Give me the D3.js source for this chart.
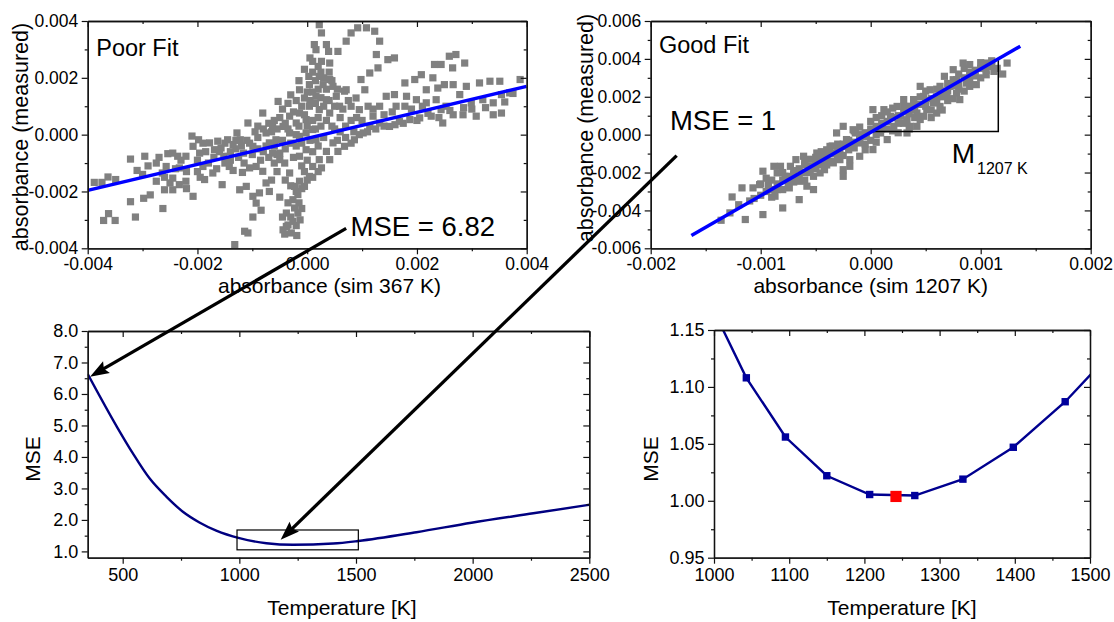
<!DOCTYPE html>
<html>
<head>
<meta charset="utf-8">
<script src="https://cdn.jsdelivr.net/npm/d3@7"></script>
<style>
  html, body { margin: 0; padding: 0; background: #fff; }
  svg { display: block; }
</style>
</head>
<body>
<svg id="fig" width="1114" height="622"></svg>
<script>
// ---------------------------------------------------------------
// Data
// ---------------------------------------------------------------

// Scatter of measured vs simulated absorbance at 367 K (units of 1e-3)
const poorFitPoints = [
  [-3.88,-1.68],[-3.74,-1.68],[-3.63,-1.49],[-3.49,-1.58],[-3.22,-0.86],[-3.10,-1.26],[-2.96,-0.76],
  [-3.71,-3.02],[-3.62,-2.78],[-3.50,-3.02],[-3.13,-2.90],[-3.22,-2.36],[-2.98,-2.24],[-2.86,-2.12],
  [-2.75,-1.00],[-2.63,-2.60],[-2.64,-1.35],[-2.54,-0.67],[-2.45,-0.65],[-2.36,-0.76],[-2.57,-1.12],
  [-2.45,-1.53],[-2.33,-1.17],[-2.21,-0.76],[-2.75,-1.64],[-2.60,-1.94],[-2.45,-1.94],[-2.33,-1.76],
  [-2.21,-1.64],[-2.08,-2.17],[-2.08,-0.41],[-1.98,-0.18],[-1.96,-0.65],[-1.90,-1.12],[-1.78,-0.29],
  [-1.69,-0.53],[-1.63,-0.23],[-1.57,-0.47],[-1.52,-0.76],[-1.45,-0.18],[-1.42,-1.12],[-1.35,-0.35],
  [-1.28,0.06],[-1.22,-0.18],[-1.16,-0.65],[-1.08,0.41],[-0.99,-0.41],[-0.93,-1.12],[-0.81,0.76],
  [-0.75,0.06],[-0.69,-0.29],[-1.23,-1.94],[-1.11,-1.82],[-0.99,-2.17],[-0.87,-2.05],[-0.81,-1.29],
  [-0.75,-1.70],[-0.93,-2.41],[-0.84,-2.66],[-0.99,-2.90],[-1.14,-3.40],[-1.08,-3.46],[-1.32,-3.87],
  [-1.87,-1.58],[-1.72,-1.35],[-1.55,-1.76],[-1.35,-1.26],[-1.18,-1.33],[-1.05,-1.17],[-0.53,1.17],
  [-0.63,0.29],[-0.57,-0.18],[-0.63,-0.65],[-0.50,-0.88],[-0.69,-2.00],
  [-2.10,-0.05],[-1.90,-0.30],[-1.50,-0.30],[-1.30,-0.50],[-1.10,-0.20],[-0.90,-0.10],[-0.90,0.30],
  [-0.80,-0.60],[-0.70,0.40],[-0.60,0.50],[-0.60,-1.00],[-0.55,-1.30],[-0.65,-1.60],
  [-2.40,-1.20],[-2.30,-0.90],[-2.20,-1.30],[-2.00,-0.90],[-2.00,-1.30],[-1.85,-0.60],[-1.80,-1.00],
  [-1.70,-0.80],[-1.65,-1.20],[-1.60,-0.60],[-1.50,-1.00],[-1.40,-0.60],[-1.40,-0.90],[-1.30,-0.20],
  [-1.25,-0.80],[-1.20,-0.40],[-1.15,-1.00],[-1.05,-0.30],[-1.00,-0.70],[-0.95,0.10],[-0.90,-0.50],
  [-0.85,-0.90],[-0.80,0.20],[-0.75,-0.40],[-0.70,-0.80],[-0.65,0.10],[-0.60,-0.40],[-0.55,-0.70],
  [-2.60,-1.50],[-2.70,-0.80],[-2.90,-1.10],[-3.00,-1.40],[-2.50,-1.70],[-2.20,-1.90],[-1.95,-1.50],
  [0.22,3.87],[0.26,3.58],[0.13,3.17],[0.35,3.17],[0.16,2.99],[0.39,2.93],[0.10,2.58],[0.26,2.58],
  [0.41,2.52],[0.03,2.05],[0.22,2.05],[0.41,1.94],[-0.14,1.58],[0.04,1.76],[0.29,1.76],[0.47,1.70],
  [-0.05,1.29],[0.16,1.35],[0.35,1.23],[0.53,1.35],[0.68,1.53],[0.04,1.00],[0.22,0.88],[0.41,0.76],
  [0.59,1.00],[-0.14,0.76],
  [-0.55,0.20],[-0.50,0.60],[-0.45,-0.20],[-0.45,0.90],[-0.40,0.40],[-0.40,-0.50],[-0.35,1.10],
  [-0.35,0.20],[-0.30,-0.30],[-0.30,1.40],[-0.25,0.80],[-0.25,-0.80],[-0.20,1.20],[-0.20,0.00],
  [-0.20,-0.40],[-0.15,1.90],[-0.15,0.30],[-0.10,1.00],[-0.10,-0.30],[-0.10,-1.10],[-0.05,2.30],
  [-0.05,0.70],[-0.05,-1.30],[0.00,1.50],[0.00,0.30],[0.00,-0.90],[0.05,2.70],[0.05,1.20],
  [0.05,-0.20],[0.10,2.20],[0.10,1.50],[0.10,0.50],[0.10,-0.60],[0.15,1.90],[0.15,1.10],[0.15,0.20],
  [0.20,2.40],[0.20,1.60],[0.20,0.60],[0.20,-0.40],[0.25,2.20],[0.25,1.30],[0.25,0.30],[0.30,2.00],
  [0.30,1.00],[0.30,-0.10],[0.35,1.60],[0.35,0.50],[0.40,2.20],[0.40,1.20],[0.45,0.30],[0.45,1.90],
  [0.50,1.00],[0.50,0.20],[0.55,1.60],[0.60,0.60],[0.60,0.10],[0.65,0.90],[0.70,0.30],[0.75,1.20],
  [0.80,0.50],[0.85,0.10],[0.90,0.60],
  [0.56,2.93],[0.71,3.29],[0.80,3.58],[0.92,3.76],[1.08,3.76],[1.23,3.64],[1.32,3.29],[1.26,2.82],
  [1.29,2.35],[1.47,2.64],[1.59,2.70],[1.14,2.17],[0.98,1.94],[0.71,1.58],[0.89,1.29],[1.05,1.58],
  [1.78,1.82],[1.96,1.94],[2.08,2.11],[2.32,2.47],[2.44,2.47],[2.59,2.76],[2.71,2.82],[2.87,2.52],
  [2.65,2.35],[2.29,2.00],[2.17,1.58],[2.38,1.64],[2.50,1.76],[2.66,1.76],[2.90,1.70],[3.14,1.82],
  [3.33,1.88],[3.51,1.88],[3.88,1.94],[3.69,1.47],[3.54,1.41],
  [1.44,1.35],[1.59,1.41],[1.81,1.35],[1.78,1.00],[1.99,1.23],[2.17,1.12],[2.35,1.23],[2.44,0.88],
  [2.53,1.00],[2.78,1.41],[2.99,1.12],[3.20,1.23],[3.39,1.12],[3.54,0.76],[3.39,0.70],[3.08,0.65],
  [2.84,0.70],[2.66,0.70],[2.47,0.41],[2.26,0.65],[2.05,0.59],[1.87,0.53],[1.68,0.47],[1.50,0.29],
  [1.32,0.41],[1.14,0.29],[1.02,0.06],[0.86,-0.18],[0.68,-0.41],[0.80,1.00],[0.95,0.88],[1.11,1.00],
  [1.32,1.00],[1.62,1.00],[1.20,0.65],
  [0.55,-0.20],[0.70,-0.10],[0.80,-0.30],[0.95,0.00],[1.10,0.10],[1.25,0.20],[1.40,0.30],[1.60,0.35],
  [1.75,0.40],[2.00,0.50],[2.20,0.75],[2.40,0.60],[2.60,0.85],[2.85,0.95],[3.00,0.90],[3.25,0.95],
  [3.60,1.15],[3.75,1.45],[1.00,0.50],[1.20,0.90],[1.40,0.70],[1.55,0.80],[1.90,0.90],[2.10,1.00],
  [0.47,-0.29],[0.56,-0.59],[0.35,-0.59],[0.22,-0.88],[0.41,-0.88],[0.10,-1.12],[0.26,-1.17],
  [0.04,-1.47],[-0.14,-1.64],[-0.05,-1.82],[-0.17,-2.11],[-0.26,-2.29],[-0.23,-2.58],[-0.17,-2.76],
  [-0.26,-3.05],[-0.38,-3.23],[-0.29,-3.46],[-0.44,-3.35],[-0.23,-1.82],[-0.32,-1.35],[-0.41,-1.00],
  [-0.50,-0.65],[-0.14,-0.76],[-0.02,-0.53],[0.16,-0.18],[0.10,0.18],[-0.14,-0.06],[-0.32,0.06],
  [-0.44,0.29],[-0.20,0.41],[-0.02,0.53],[-0.32,0.65],[-0.02,0.06],
  [-0.38,-2.76],[-0.13,-3.00],[-0.41,-3.50],[-0.19,-3.55],[-0.35,-3.18],
  [-0.30,-1.80],[-0.20,-2.00],[-0.10,-1.90],[0.00,-1.60],[-0.35,-2.40],[-0.15,-2.40],[-0.30,-2.90],
  [-0.10,-2.60],[-0.45,-2.90],[-0.20,-3.20],[0.10,-1.50],[0.20,-1.30],[-0.40,-1.60],[-0.50,-2.20]
];

// Scatter of measured vs simulated absorbance at 1207 K (units of 1e-3)
const goodFitPoints = [
  [-1.36,-4.52],[-1.28,-4.13],[-1.26,-3.29],[-1.17,-2.81],[-1.14,-4.48],[-1.07,-2.81],[-1.06,-3.37],
  [-0.98,-4.22],[-1.01,-2.64],[-0.98,-1.93],[-0.93,-2.64],[-0.88,-1.67],[-0.85,-2.02],[-0.82,-1.67],
  [-0.87,-3.25],[-0.80,-3.87],[-0.80,-2.90],[-0.74,-2.81],[-0.73,-1.67],[-0.68,-1.32],[-0.65,-3.43],
  [-0.64,-2.46],[-0.61,-1.14],[-0.58,-2.72],[-0.52,-2.90],[-0.55,-1.67],[-0.49,-0.97],[-0.46,-2.02],
  [-0.42,-1.85],[-0.40,-1.14],[-0.37,-0.62],[-0.34,-1.49],[-0.31,0.09],[-0.28,-0.79],[-0.25,0.44],
  [-0.22,-0.26],[-0.19,-1.32],[-0.14,0.09],[-0.70,-2.20],[-0.78,-2.20],[-0.52,-2.20],
  [-0.28,-1.32],[-0.25,-1.85],[-0.22,-0.62],[-0.16,0.26],[-0.10,-0.44],[-0.04,-0.09],[0.02,1.32],
  [0.05,0.44],[0.12,1.32],[0.15,-0.26],[0.21,0.44],[0.24,1.49],[0.30,1.85],[0.33,0.79],[0.36,0.44],
  [0.42,1.14],[0.45,2.55],[0.48,2.02],[0.51,1.32],[0.54,2.37],[0.60,1.14],[0.63,2.55],[0.67,3.08],
  [0.69,2.02],[0.75,3.43],[0.78,2.20],[0.81,1.85],[0.84,3.78],[0.87,2.72],[0.90,2.55],[0.96,2.64],
  [1.05,3.16],[1.12,3.34],[1.05,3.78],[1.24,3.78],[0.39,1.85],[0.27,0.97],[0.18,0.97],[0.09,0.09],
  [0.48,0.97],[0.57,1.67],[0.72,2.55],[0.78,2.90],[0.63,1.49],[0.42,0.44],[0.33,0.09],[0.02,-0.79],
  [-0.10,-1.14],[-0.19,-1.67],[-0.25,-2.20],
  [-1.20,-3.70],[-1.10,-3.50],[-1.00,-3.20],[-0.90,-2.90],[-0.95,-2.30],[-0.85,-2.60],[-0.75,-2.40],
  [-0.70,-1.90],[-0.60,-2.00],[-0.60,-1.60],[-0.50,-1.50],[-0.45,-1.20],[-0.40,-1.60],[-0.35,-1.00],
  [-0.30,-1.10],[-0.30,-0.50],[-0.20,-0.80],[-0.15,-0.40],[-0.10,0.00],[-0.05,-0.50],[0.00,0.30],
  [0.05,0.00],[0.10,0.60],[0.15,0.30],[0.20,0.90],[0.25,0.60],[0.30,1.20],[0.35,1.50],[0.40,0.90],
  [0.45,1.60],[0.50,1.80],[0.55,1.30],[0.60,2.00],[0.65,2.30],[0.70,1.80],[0.75,2.60],[0.80,2.40],
  [0.85,3.00],[0.90,3.30],[0.95,3.10],[1.00,3.50],[1.10,3.60],
  [-1.00,-2.60],[-0.95,-3.00],[-0.90,-2.40],[-0.90,-3.30],[-0.85,-2.90],[-0.80,-2.40],[-0.80,-2.00],
  [-0.75,-2.20],[-0.75,-2.60],[-0.70,-2.50],[-0.70,-2.10],[-0.65,-1.80],[-0.65,-2.20],[-0.60,-1.40],
  [-0.60,-2.40],[-0.55,-2.00],[-0.55,-1.30],[-0.50,-1.80],[-0.50,-1.20],[-0.45,-1.60],[-0.45,-0.90],
  [-0.40,-1.30],[-0.40,-0.80],[-0.35,-1.40],[-0.35,-0.60],[-0.30,-0.80],[-0.30,-1.30],[-0.25,-0.50],
  [-0.25,-1.10],[-0.20,-0.30],[-0.20,-0.60],[-0.15,-0.70],[-0.15,0.20],[-0.10,-0.20],[-0.10,0.40],
  [-0.05,0.10],[-0.05,-0.80],[0.00,-0.30],[0.00,0.70],[0.05,0.90],[0.05,-0.40],[0.10,0.30],
  [0.10,1.00],[0.15,0.70],[0.15,1.20],[0.20,0.20],[0.20,1.40],[0.25,1.00],[0.25,0.10],[0.30,0.60],
  [0.30,1.50],[0.35,1.10],[0.35,0.30],[0.40,1.60],[0.40,1.30],[0.45,0.80],[0.45,2.00],[0.50,1.50],
  [0.50,2.30],[0.55,1.90],[0.55,0.90],[0.60,1.70],[0.60,2.40],[0.65,2.00],[0.65,1.30],[0.70,2.30],
  [0.70,2.70],[0.75,1.90],[0.75,2.90],[0.80,2.60],[0.80,3.20],[0.85,2.30],[0.85,3.50],[0.90,2.90],
  [0.90,3.70],[0.95,3.40],[1.00,3.00],[1.00,3.80],[1.05,3.40],[1.10,3.90],[1.15,3.50],[1.20,3.20]
];

// Linear fits (absorbance units)
const poorFitSlope = 0.4575, poorFitIntercept = -0.00013;
const poorFitRange = [-0.004, 0.004];
const goodFitSlope = 3.343, goodFitIntercept = 0.000124;
const goodFitRange = [-0.00163, 0.00136];
// Slope triangle drawn under the good fit line
const slopeTriangle = [[0, 0.00016], [0.00116, 0.00016], [0.00116, 0.00402]];

// MSE versus temperature, full scan
const scanTemp = [350, 479, 543, 615, 687, 758, 829, 901, 1000, 1116, 1230, 1402, 1509, 1759, 1995, 2260, 2500];
const scanMSE  = [6.635, 4.91, 4.12, 3.32, 2.74, 2.26, 1.92, 1.66, 1.42, 1.26, 1.21, 1.25, 1.33, 1.61, 1.91, 2.21, 2.48];
// Region shown enlarged on the right
const zoomTemp = [990, 1510];
const zoomMSE  = [1.05, 1.68];

// MSE versus temperature, fine scan around the minimum
const fineTemp = [993, 1043, 1095, 1150, 1207, 1267, 1331, 1398, 1467, 1539];
const fineMSE  = [1.176, 1.108, 1.056, 1.022, 1.0055, 1.0046, 1.019, 1.047, 1.087, 1.1375];
const bestTemp = 1242, bestMSE = 1.0038;

// Tick values
const ticksA = [-0.004, -0.002, 0, 0.002, 0.004];
const minorA = [-0.003, -0.001, 0.001, 0.003];
const ticksBx = [-0.002, -0.001, 0, 0.001, 0.002];
const minorBx = [-0.0015, -0.0005, 0.0005, 0.0015];
const ticksBy = [-0.006, -0.004, -0.002, 0, 0.002, 0.004, 0.006];
const minorBy = [-0.005, -0.003, -0.001, 0.001, 0.003, 0.005];
const ticksCx = [500, 1000, 1500, 2000, 2500];
const minorCx = [750, 1250, 1750, 2250];
const ticksCy = [1, 2, 3, 4, 5, 6, 7, 8];
const minorCy = [1.5, 2.5, 3.5, 4.5, 5.5, 6.5, 7.5];
const ticksDx = [1000, 1100, 1200, 1300, 1400, 1500];
const minorDx = [1050, 1150, 1250, 1350, 1450];
const ticksDy = [0.95, 1.00, 1.05, 1.10, 1.15];
const minorDy = [0.975, 1.025, 1.075, 1.125];

// ---------------------------------------------------------------
// Drawing
// ---------------------------------------------------------------
const FONT = '"Liberation Sans", Arial, Helvetica, sans-serif';
const svg = d3.select('#fig').attr('font-family', FONT);
svg.append('rect').attr('width', 1114).attr('height', 622).attr('fill', '#fff');

const dash = f => v => f(v).replace('\u2212', '-');

function makePanel(cfg) {
  const x = d3.scaleLinear().domain(cfg.xDomain).range([cfg.left, cfg.right]);
  const y = d3.scaleLinear().domain(cfg.yDomain).range([cfg.bottom, cfg.top]);
  const g = svg.append('g');
  const clipId = 'clip-' + cfg.name;
  svg.append('clipPath').attr('id', clipId).append('rect')
    .attr('x', cfg.left).attr('y', cfg.top)
    .attr('width', cfg.right - cfg.left).attr('height', cfg.bottom - cfg.top);
  const plot = g.append('g').attr('clip-path', `url(#${clipId})`);
  return { x, y, g, plot, cfg };
}

function drawAxes(p) {
  const { x, y, g, cfg } = p;
  const add = (axis, tx, ty) => {
    const a = g.append('g').attr('transform', `translate(${tx},${ty})`).call(axis);
    a.attr('font-family', FONT).attr('font-size', cfg.tickFont);
    a.selectAll('path.domain').attr('stroke', '#111').attr('stroke-width', 1.3);
    a.selectAll('.tick line').attr('stroke', '#111').attr('stroke-width', 1.2);
    a.selectAll('.tick text').attr('fill', '#000');
    return a;
  };
  add(d3.axisBottom(x).tickValues(cfg.xMajor).tickSize(6).tickSizeOuter(0).tickPadding(cfg.xPad).tickFormat(cfg.xFmt), 0, cfg.bottom);
  add(d3.axisBottom(x).tickValues(cfg.xMinor).tickSize(3).tickSizeOuter(0).tickFormat(''), 0, cfg.bottom);
  add(d3.axisTop(x).tickValues(cfg.xMajor).tickSize(-6).tickSizeOuter(0).tickFormat(''), 0, cfg.top);
  add(d3.axisTop(x).tickValues(cfg.xMinor).tickSize(-3).tickSizeOuter(0).tickFormat(''), 0, cfg.top);
  add(d3.axisLeft(y).tickValues(cfg.yMajor).tickSize(6).tickSizeOuter(0).tickPadding(3.5).tickFormat(cfg.yFmt), cfg.left, 0);
  add(d3.axisLeft(y).tickValues(cfg.yMinor).tickSize(3).tickSizeOuter(0).tickFormat(''), cfg.left, 0);
  add(d3.axisRight(y).tickValues(cfg.yMajor).tickSize(-6).tickSizeOuter(0).tickFormat(''), cfg.right, 0);
  add(d3.axisRight(y).tickValues(cfg.yMinor).tickSize(-3).tickSizeOuter(0).tickFormat(''), cfg.right, 0);
}

function label(text, x, y, size, opts = {}) {
  const t = svg.append('text').attr('x', x).attr('y', y)
    .attr('font-size', size).attr('fill', '#000')
    .attr('text-anchor', opts.anchor || 'start').text(text);
  if (opts.rotate) t.attr('transform', `rotate(-90 ${x} ${y})`);
  return t;
}

// ---- Panel A: poor fit ----
const A = makePanel({
  name: 'a', left: 87.7, right: 526.7, top: 21, bottom: 248.3,
  xDomain: [-0.004, 0.004], yDomain: [-0.004, 0.004],
  xMajor: ticksA, xMinor: minorA, yMajor: ticksA, yMinor: minorA,
  xFmt: dash(d3.format('.3f')), yFmt: dash(d3.format('.3f')), tickFont: 17.5, xPad: 3
});
A.plot.selectAll('rect.pt').data(poorFitPoints).join('rect').attr('class', 'pt')
  .attr('x', d => A.x(d[0] * 1e-3) - 3.6).attr('y', d => A.y(d[1] * 1e-3) - 3.6)
  .attr('width', 7.2).attr('height', 7.2).attr('fill', '#808080');
A.plot.append('path')
  .datum(poorFitRange.map(v => [v, poorFitIntercept + poorFitSlope * v]))
  .attr('d', d3.line().x(d => A.x(d[0])).y(d => A.y(d[1])))
  .attr('stroke', '#0000ff').attr('stroke-width', 3.5).attr('fill', 'none');
drawAxes(A);

// ---- Panel B: good fit ----
const B = makePanel({
  name: 'b', left: 650.7, right: 1090.7, top: 21, bottom: 248.3,
  xDomain: [-0.002, 0.002], yDomain: [-0.006, 0.006],
  xMajor: ticksBx, xMinor: minorBx, yMajor: ticksBy, yMinor: minorBy,
  xFmt: dash(d3.format('.3f')), yFmt: dash(d3.format('.3f')), tickFont: 17.5, xPad: 3
});
B.plot.selectAll('rect.pt').data(goodFitPoints).join('rect').attr('class', 'pt')
  .attr('x', d => B.x(d[0] * 1e-3) - 3.6).attr('y', d => B.y(d[1] * 1e-3) - 3.6)
  .attr('width', 7.2).attr('height', 7.2).attr('fill', '#808080');
B.plot.append('path')
  .datum(slopeTriangle)
  .attr('d', d3.line().x(d => B.x(d[0])).y(d => B.y(d[1])))
  .attr('stroke', '#000').attr('stroke-width', 1.5).attr('fill', 'none');
B.plot.append('path')
  .datum(goodFitRange.map(v => [v, goodFitIntercept + goodFitSlope * v]))
  .attr('d', d3.line().x(d => B.x(d[0])).y(d => B.y(d[1])))
  .attr('stroke', '#0000ff').attr('stroke-width', 3.5).attr('fill', 'none');
drawAxes(B);

// ---- Panel C: MSE over the full temperature scan ----
const C = makePanel({
  name: 'c', left: 87.7, right: 589.3, top: 331, bottom: 557.7,
  xDomain: [350, 2500], yDomain: [0.8, 8.0],
  xMajor: ticksCx, xMinor: minorCx, yMajor: ticksCy, yMinor: minorCy,
  xFmt: d3.format('d'), yFmt: d3.format('.1f'), tickFont: 18, xPad: 4.5
});
C.plot.append('path')
  .datum(d3.zip(scanTemp, scanMSE))
  .attr('d', d3.line().x(d => C.x(d[0])).y(d => C.y(d[1])).curve(d3.curveMonotoneX))
  .attr('stroke', '#000080').attr('stroke-width', 2.4).attr('fill', 'none');
C.plot.append('rect')
  .attr('x', C.x(zoomTemp[0])).attr('y', C.y(zoomMSE[1]))
  .attr('width', C.x(zoomTemp[1]) - C.x(zoomTemp[0]))
  .attr('height', C.y(zoomMSE[0]) - C.y(zoomMSE[1]))
  .attr('fill', 'none').attr('stroke', '#000').attr('stroke-width', 1.2);
drawAxes(C);

// ---- Panel D: MSE near the minimum ----
const D = makePanel({
  name: 'd', left: 714, right: 1090, top: 330, bottom: 557.7,
  xDomain: [1000, 1500], yDomain: [0.95, 1.15],
  xMajor: ticksDx, xMinor: minorDx, yMajor: ticksDy, yMinor: minorDy,
  xFmt: d3.format('d'), yFmt: d3.format('.2f'), tickFont: 18, xPad: 4.5
});
const finePts = d3.zip(fineTemp, fineMSE);
D.plot.append('path')
  .datum(finePts)
  .attr('d', d3.line().x(d => D.x(d[0])).y(d => D.y(d[1])))
  .attr('stroke', '#00008f').attr('stroke-width', 2.4).attr('fill', 'none');
D.plot.selectAll('rect.pt')
  .data(finePts.filter(d => d[0] >= 1000 && d[0] <= 1500))
  .join('rect').attr('class', 'pt')
  .attr('x', d => D.x(d[0]) - 3.7).attr('y', d => D.y(d[1]) - 3.7)
  .attr('width', 7.4).attr('height', 7.4).attr('fill', '#00009c');
D.plot.append('rect')
  .attr('x', D.x(bestTemp) - 5.6).attr('y', D.y(bestMSE) - 5.6)
  .attr('width', 11.2).attr('height', 11.2).attr('fill', '#ff0000');
drawAxes(D);

// ---- Axis titles ----
label('absorbance (measured)', 27.5, 137, 21.5, { anchor: 'middle', rotate: true });
label('absorbance (sim 367 K)', 329.5, 293, 21, { anchor: 'middle' });
label('absorbance (measured)', 593, 128, 21.5, { anchor: 'middle', rotate: true });
label('absorbance (sim 1207 K)', 870.7, 293, 21, { anchor: 'middle' });
label('MSE', 40, 459, 21, { anchor: 'middle', rotate: true });
label('Temperature [K]', 342, 615, 21, { anchor: 'middle' });
label('MSE', 658, 459, 21, { anchor: 'middle', rotate: true });
label('Temperature [K]', 902, 615, 21, { anchor: 'middle' });

// ---- In-plot annotations ----
label('Poor Fit', A.x(-0.003845), A.y(0.002756), 23.5);
label('Good Fit', B.x(-0.001925), B.y(0.004313), 23.5);
label('MSE = 6.82', A.x(0.00079), A.y(-0.00355), 27.5);
label('MSE = 1', B.x(-0.001825), B.y(0.00026), 27.5);
const mLabel = label('M', B.x(0.000736), B.y(-0.0015), 28);
mLabel.append('tspan').attr('font-size', 16).attr('dx', 2).attr('dy', 10.7).text('1207 K');

// ---- Arrows linking the scatter plots to the MSE curve ----
function arrow(from, to) {
  const [x1, y1] = from, [x2, y2] = to;
  const dx = x2 - x1, dy = y2 - y1, L = Math.hypot(dx, dy);
  const ux = dx / L, uy = dy / L;
  const head = 19, half = 6.8, notch = 3;
  const bx = x2 - ux * head, by = y2 - uy * head;
  svg.append('line')
    .attr('x1', x1).attr('y1', y1).attr('x2', bx + ux * 4).attr('y2', by + uy * 4)
    .attr('stroke', '#000').attr('stroke-width', 3.3);
  svg.append('path')
    .attr('d', `M${x2},${y2}L${bx - uy * half},${by + ux * half}L${bx + ux * notch},${by + uy * notch}L${bx + uy * half},${by - ux * half}Z`)
    .attr('fill', '#000');
}
arrow([A.x(0.00071), A.y(-0.0033)], [C.x(360), C.y(6.55)]);
arrow([B.x(-0.001764), B.y(-0.00111)], [C.x(1177), C.y(1.37)]);
</script>
</body>
</html>
